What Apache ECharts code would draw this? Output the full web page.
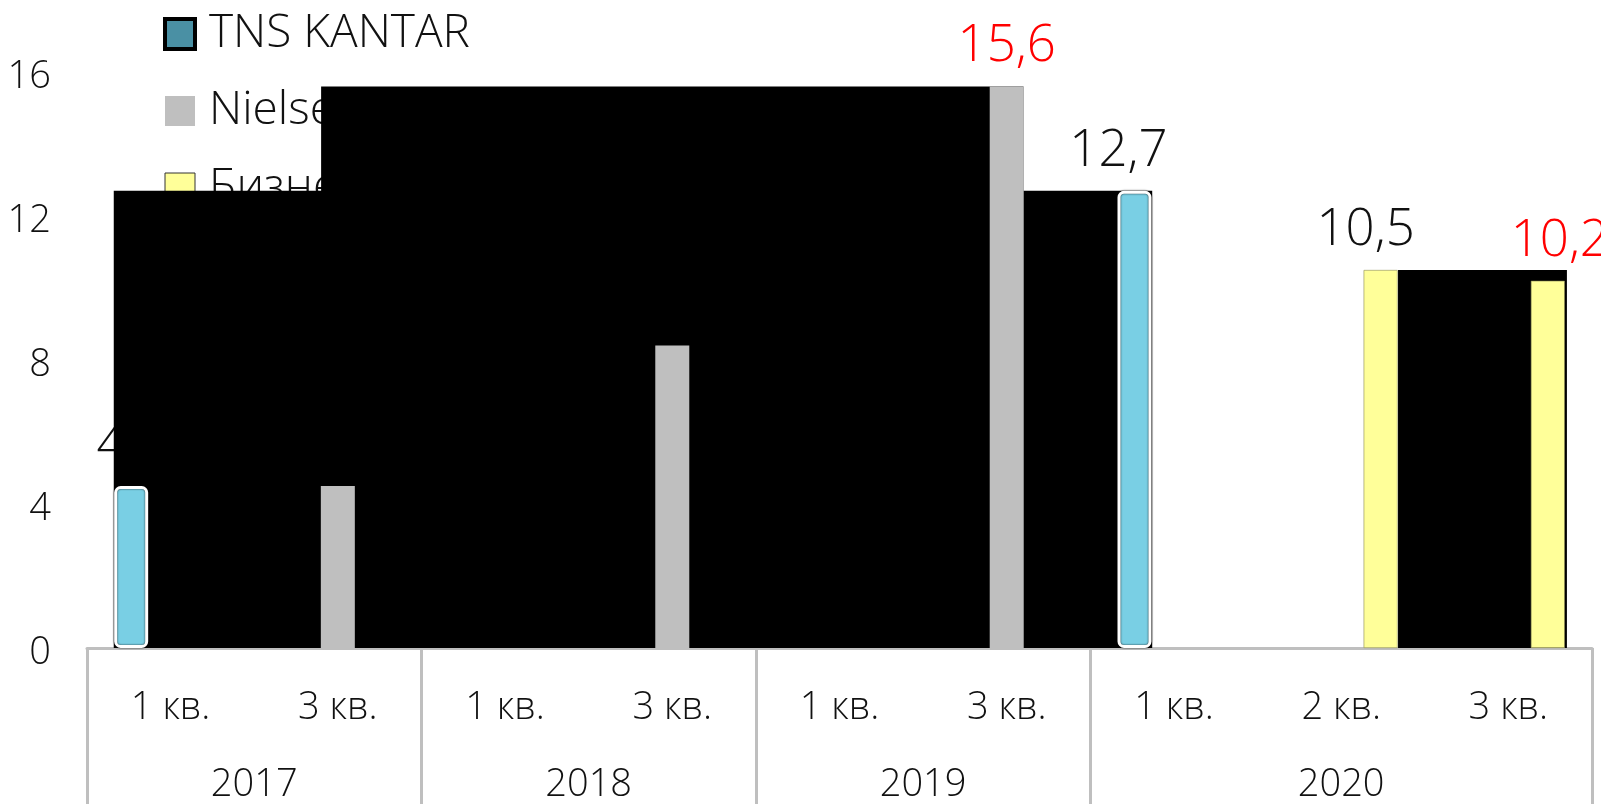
<!DOCTYPE html>
<html><head><meta charset="utf-8">
<script src="https://cdn.jsdelivr.net/npm/echarts@6/dist/echarts.min.js"></script>
<style>html,body{margin:0;padding:0;background:#fff}#c{width:1601px;height:804px}</style>
</head><body><div id="c"></div>
<script>
// ---------- data ----------
const quarters = ['1 кв.','3 кв.','1 кв.','3 кв.','1 кв.','3 кв.','1 кв.','2 кв.','3 кв.'];
const years = ['2017','2018','2019','2020'];
const quartersPerYear = [2,2,2,3];
const seriesNames = ['TNS KANTAR','Nielsen','Бизнес-Россия'];
const tnsValues     = [4.5, null, null, null, null, null, 12.7, null, null];
const nielsenValues = [null, 4.5, null, 8.4, null, 15.6, null, null, null];
const bizValues     = [null, null, null, null, null, null, null, 10.5, 10.2];
// dark blocks: [from (quarter units), to (quarter units), height value]
const blackBlocks = [[0.16, 1.41, 12.7], [1.40, 5.60, 15.6], [5.59, 6.37, 12.7], [7.84, 8.85, 10.5]];
const yMin = 0, yMax = 16, yStep = 4;

// ---------- styling ----------
const FONT = "'Open Sans', sans-serif";
const TEXT = '#111';
const GREY = '#bfbfbf';
const red = '#ff0000';
const labelTweaks = { // per series/index label colour & offset
  0: {0: {dx: 0}, 6: {dx: -16}},
  1: {5: {dx: 0, color: red}},
  2: {7: {dx: -15}, 8: {dx: 12, color: red}}
};

// year axis built from years / quartersPerYear (half-step points)
const nPts = quarters.length * 2 + 1;
const yearLabels = new Array(nPts).fill('');
const boundaryIdx = new Set();
let s = 0;
years.forEach((y, i) => {
  boundaryIdx.add(s * 2);
  yearLabels[s * 2 + quartersPerYear[i]] = y;
  s += quartersPerYear[i];
});
boundaryIdx.add(s * 2);

const barW = 34, barGap = '16%';
const valueSets = [tnsValues, nielsenValues, bizValues];
const barStyles = [
  {color: '#79cfe4', borderColor: '#ffffff', borderWidth: 3, borderRadius: 5, shadowColor: 'rgba(0,0,0,0.85)', shadowBlur: 2},
  {color: GREY},
  {color: '#ffff99', borderColor: '#8a8a55', borderWidth: 0.6}
];

function labelData(si) {
  return valueSets[si].map((v, i) => {
    if (v == null) return null;
    const t = (labelTweaks[si] || {})[i] || {};
    return {value: v, label: {offset: [t.dx || 0, 0], color: t.color || TEXT}};
  });
}

const series = [];
// label-only bars (beneath the dark blocks)
seriesNames.forEach((n, si) => {
  series.push({
    name: n, type: 'bar', xAxisIndex: 3, yAxisIndex: 0, z: 1,
    barWidth: barW, barGap: barGap,
    data: labelData(si),
    itemStyle: {color: 'rgba(0,0,0,0)'},
    label: {show: true, position: 'top', distance: 14, fontFamily: FONT, fontWeight: 300, fontSize: 51,
      formatter: p => String(p.value).replace('.', ',')},
    silent: true
  });
});
// dark blocks
series.push({
  type: 'custom', xAxisIndex: 2, yAxisIndex: 0, z: 2,
  data: blackBlocks,
  encode: {x: [0, 1], y: 2},
  renderItem: (params, api) => {
    const p0 = api.coord([api.value(0), api.value(2)]);
    const p1 = api.coord([api.value(1), 0]);
    return {type: 'rect', shape: {x: p0[0], y: p0[1], width: p1[0] - p0[0], height: p1[1] - p0[1]},
      style: {fill: '#000'}};
  },
  silent: true
});
// visible bars (on top)
seriesNames.forEach((n, si) => {
  series.push({
    name: n, type: 'bar', xAxisIndex: 0, yAxisIndex: 0, z: 3,
    barWidth: barW, barGap: barGap,
    data: valueSets[si],
    itemStyle: barStyles[si]
  });
});

const chart = echarts.init(document.getElementById('c'), null, {renderer: 'canvas'});
chart.setOption({
  animation: false,
  backgroundColor: '#fff',
  textStyle: {fontFamily: FONT},
  grid: {left: 87, right: 9, top: 72, bottom: 154, containLabel: false},
  legend: {
    z: 0, orient: 'vertical', left: 158, top: 6, itemWidth: 30, itemHeight: 30, itemGap: 31,
    textStyle: {fontFamily: FONT, fontWeight: 300, fontSize: 46, color: TEXT, padding: [0, 0, 0, 9]},
    data: [
      {name: seriesNames[0], icon: 'rect', itemStyle: {color: '#4a90a4', borderColor: '#000', borderWidth: 4}},
      {name: seriesNames[1], icon: 'rect', itemStyle: {color: GREY, borderWidth: 0}},
      {name: seriesNames[2], icon: 'rect', itemStyle: {color: '#ffff99', borderColor: '#333', borderWidth: 1}}
    ]
  },
  xAxis: [
    {type: 'category', data: quarters, position: 'bottom',
      axisLine: {show: true, lineStyle: {color: GREY, width: 3}},
      axisTick: {show: false},
      axisLabel: {interval: 0, margin: 41, fontFamily: FONT, fontWeight: 300, fontSize: 38, color: TEXT}},
    {type: 'category', data: yearLabels, boundaryGap: false, position: 'bottom',
      axisLine: {show: false},
      axisTick: {show: true, length: 170, interval: (i) => boundaryIdx.has(i), lineStyle: {color: GREY, width: 3}},
      axisLabel: {interval: 0, margin: 118, fontFamily: FONT, fontWeight: 300, fontSize: 38, color: TEXT}},
    {type: 'value', min: 0, max: quarters.length, show: false},
    {type: 'category', data: quarters, show: false}
  ],
  yAxis: [{
    type: 'value', min: yMin, max: yMax, interval: yStep,
    axisLine: {show: false}, axisTick: {show: false}, splitLine: {show: false},
    axisLabel: {margin: 36, formatter: v => '{a|' + v + '}',
      rich: {a: {padding: [10, 0, 0, 0], fontFamily: FONT, fontWeight: 300, fontSize: 38, color: TEXT}}}
  }],
  series: series
});
</script></body></html>
